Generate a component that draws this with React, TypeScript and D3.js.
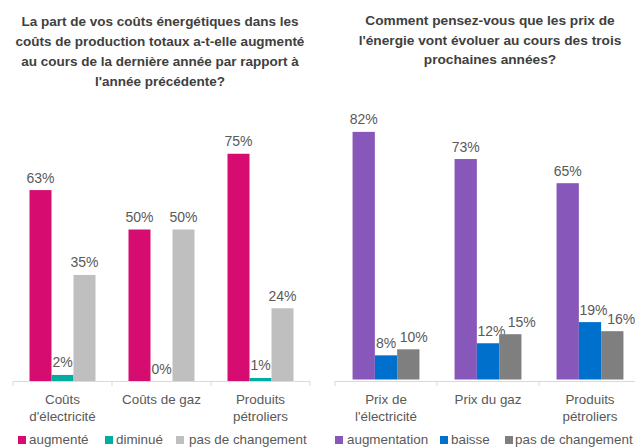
import React from "react";
import * as d3 from "d3";

const leftTitle = [
  "La part de vos coûts énergétiques dans les",
  "coûts de production totaux a-t-elle augmenté",
  "au cours de la dernière année par rapport à",
  "l'année précédente?",
];
const leftCategories = [["Coûts", "d'électricité"], ["Coûts de gaz"], ["Produits", "pétroliers"]];
const leftSeries = ["augmenté", "diminué", "pas de changement"];
const leftAugmente = [63, 50, 75];
const leftDiminue = [2, 0, 1];
const leftPasChangement = [35, 50, 24];
const leftColors = ["#d60c70", "#00ada0", "#bfbfbf"];

const rightTitle = [
  "Comment pensez-vous que les prix de",
  "l'énergie vont évoluer au cours des trois",
  "prochaines années?",
];
const rightCategories = [["Prix de", "l'électricité"], ["Prix du gaz"], ["Produits", "pétroliers"]];
const rightSeries = ["augmentation", "baisse", "pas de changement"];
const rightAugmentation = [82, 73, 65];
const rightBaisse = [8, 12, 19];
const rightPasChangement = [10, 15, 16];
const rightColors = ["#8757b9", "#0070cd", "#7f7f7f"];

// label horizontal nudges (style, not data): [series][category]
const leftLabelDx = [[0, 0, 0], [0, 0, 0], [0, 0, 0]];
const rightLabelDx = [[0, 0, 0], [0, 3.5, 3.5], [5.5, 11.5, 9]];

const FONT = "'Liberation Sans', Arial, sans-serif";
const TEXT = "#595959";

type PanelProps = {
  title: string[];
  titleCx: number;
  titleY: number[];
  titleSize: number;
  cats: string[][];
  series: string[];
  values: number[][];
  colors: string[];
  labelDx: number[][];
  x0: number;
  band: number;
  barW: number;
  base: number;
  pxPct: number;
  axisEnd: number;
  legendItems: { sq: number; tx: number }[];
  legendY: number;
};

function Panel(p: PanelProps) {
  const cats = p.cats.map((_, i) => String(i));
  const x = d3.scaleBand<string>().domain(cats).range([p.x0, p.x0 + p.band * cats.length]).padding(0);
  const groupW = p.barW * p.series.length;
  const pad = (p.band - groupW) / 2;
  const xs = d3.scaleBand<number>().domain(p.series.map((_, i) => i)).range([pad, pad + groupW]).padding(0);
  const y = d3.scaleLinear().domain([0, 100]).range([p.base, p.base - 100 * p.pxPct]);
  return (
    <g>
      {p.title.map((t, i) => (
        <text key={i} x={p.titleCx} y={p.titleY[i]} textAnchor="middle" fontFamily={FONT} fontWeight="bold" fontSize={p.titleSize} fill="#404040">
          {t}
        </text>
      ))}
      {cats.map((c, ci) =>
        p.series.map((s, si) => {
          const v = p.values[si][ci];
          const bx = (x(c) as number) + (xs(si) as number);
          return (
            <g key={c + "-" + si}>
              <rect x={bx} y={y(v)} width={xs.bandwidth()} height={p.base - y(v)} fill={p.colors[si]} />
              <text x={bx + xs.bandwidth() / 2 + p.labelDx[si][ci]} y={y(v) - 7.5} textAnchor="middle" fontFamily={FONT} fontSize={14} fill={TEXT}>
                {v}%
              </text>
            </g>
          );
        })
      )}
      <line x1={p.x0} x2={p.axisEnd} y1={381.5} y2={381.5} stroke="#d9d9d9" />
      {d3.range(cats.length + 1).map((i) => (
        <line key={i} x1={p.x0 + i * p.band} x2={p.x0 + i * p.band} y1={381.5} y2={386} stroke="#d9d9d9" />
      ))}
      {cats.map((c, ci) =>
        p.cats[ci].map((ln, li) => (
          <text key={c + "l" + li} x={(x(c) as number) + p.band / 2} y={404 + li * 17} textAnchor="middle" fontFamily={FONT} fontSize={13.4} fill={TEXT}>
            {ln}
          </text>
        ))
      )}
      {p.series.map((s, si) => (
        <g key={"lg" + si}>
          <rect x={p.legendItems[si].sq} y={p.legendY - 7.5} width={8} height={8} fill={p.colors[si]} />
          <text x={p.legendItems[si].tx} y={p.legendY} fontFamily={FONT} fontSize={13.4} fill={TEXT}>
            {s}
          </text>
        </g>
      ))}
    </g>
  );
}

export default function App() {
  return (
    <svg width={635} height={448} style={{ position: "absolute", left: 0, top: 0, background: "#fff" }}>
      <rect width={635} height={448} fill="#fff" />
      <Panel
        title={leftTitle}
        titleCx={160}
        titleY={[26, 46, 66, 86]}
        titleSize={13.5}
        cats={leftCategories}
        series={leftSeries}
        values={[leftAugmente, leftDiminue, leftPasChangement]}
        colors={leftColors}
        labelDx={leftLabelDx}
        x0={13}
        band={99}
        barW={22}
        base={381}
        pxPct={3.03}
        axisEnd={310}
        legendItems={[{ sq: 18, tx: 29 }, { sq: 105, tx: 116 }, { sq: 176, tx: 189 }]}
        legendY={443.5}
      />
      <Panel
        title={rightTitle}
        titleCx={490}
        titleY={[25, 45, 64]}
        titleSize={13.7}
        cats={rightCategories}
        series={rightSeries}
        values={[rightAugmentation, rightBaisse, rightPasChangement]}
        colors={rightColors}
        labelDx={rightLabelDx}
        x0={335}
        band={102}
        barW={22.3}
        base={379.5}
        pxPct={3.02}
        axisEnd={640}
        legendItems={[{ sq: 335, tx: 347 }, { sq: 440, tx: 451 }, { sq: 505, tx: 515 }]}
        legendY={443.5}
      />
    </svg>
  );
}
